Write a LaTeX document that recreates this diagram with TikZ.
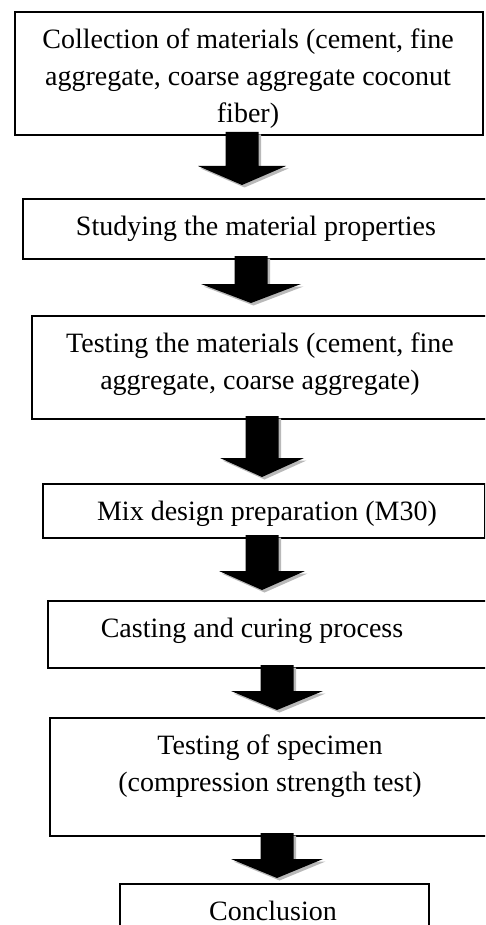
\documentclass[tikz,border=0pt]{standalone}
\usepackage{fontspec}
\setmainfont{Liberation Serif}
\usetikzlibrary{calc,shadows}

\tikzset{
  stepbox/.style={draw, line width=2pt, inner sep=0pt, anchor=north west},
  steptext/.style={anchor=north, align=center, inner sep=0pt, font=\fontsize{28}{37}\selectfont},
  blockarrow/.style={fill=black, drop shadow={shadow xshift=2.5pt, shadow yshift=-2.5pt, fill=gray!55, opacity=1}}
}

\begin{document}
\begin{tikzpicture}[x=1pt,y=-1pt]
\useasboundingbox (0,0) rectangle (485,925);
\clip (0,0) rectangle (485,925);
% boxes: number/left/top/right/bottom
\foreach \n/\l/\t/\r/\b in {1/14/11/482/134, 2/22/198/492/258, 3/31/315/492/418,
  4/42/483/484/537, 5/47/600/492/667, 6/49/717/492/835, 7/119/883/428/935}
  \node[stepbox, minimum width={(\r-\l)*1pt}, minimum height={(\b-\t)*1pt}] (s\n) at (\l,\t) {};
% texts
\node[steptext] (t1) at (248,29) {Collection of materials (cement, fine\\aggregate, coarse aggregate coconut\\fiber)};
\node[steptext] (t2) at (256,216) {Studying the material properties};
\node[steptext] (t3) at (260,333) {Testing the materials (cement, fine\\aggregate, coarse aggregate)};
\node[steptext] (t4) at (267,501) {Mix design preparation (M30)};
\node[steptext] (t5) at (252,618) {Casting and curing process};
\node[steptext] (t6) at (270,735) {Testing of specimen\\(compression strength test)};
\node[steptext] (t7) at (273,901) {Conclusion};
% arrows: from/to/x/gap/half head
\foreach \a/\b/\x/\g/\w in {1/2/242/13/44, 2/3/251/12/50, 3/4/262/6/42,
  4/5/262/10/43, 5/6/277/7/46, 6/7/277/5/46}{
  \coordinate (ax) at (\x,0);
  \coordinate (top) at ($(s\a.south -| ax)+(0,-4)$);
  \coordinate (tip) at ($(s\b.north -| ax)+(0,-\g)$);
  \fill[blockarrow] ($(top)+(-16.5,0)$) -- ($(top)+(16.5,0)$) -- ($(tip)+(16.5,-19)$)
    -- ($(tip)+(\w,-19)$) -- (tip) -- ($(tip)+(-\w,-19)$) -- ($(tip)+(-16.5,-19)$) -- cycle;
}
\end{tikzpicture}
\end{document}
